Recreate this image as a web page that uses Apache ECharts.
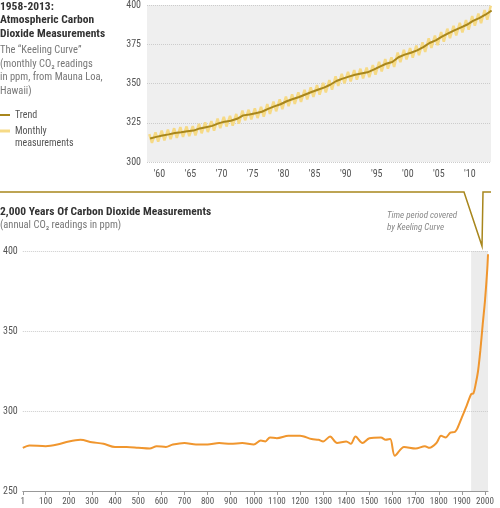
<!DOCTYPE html><html><head><meta charset="utf-8"><script src="https://cdn.jsdelivr.net/npm/echarts@6/dist/echarts.min.js"></script>
<style>html,body{margin:0;padding:0;background:#fff}#c{width:500px;height:508px}</style></head><body><div id="c"></div><script>
const trendYears=[1958,1959,1960,1961,1962,1963,1964,1965,1966,1967,1968,1969,1970,1971,1972,1973,1974,1975,1976,1977,1978,1979,1980,1981,1982,1983,1984,1985,1986,1987,1988,1989,1990,1991,1992,1993,1994,1995,1996,1997,1998,1999,2000,2001,2002,2003,2004,2005,2006,2007,2008,2009,2010,2011,2012,2013];
const trendValues=[315.0,316.0,316.9,317.6,318.5,319.0,319.6,320.0,321.4,322.2,323.0,324.6,325.7,326.3,327.5,329.7,330.2,331.1,332.0,333.8,335.4,336.8,338.7,340.1,341.4,343.0,344.6,346.0,347.4,349.2,351.6,353.1,354.4,355.6,356.4,357.1,358.8,360.8,362.6,363.7,366.7,368.4,369.6,371.1,373.2,375.8,377.5,379.8,381.9,383.8,385.6,387.4,389.9,391.6,393.8,396.5];
const monthlyMay=[317.8,318.9,320.0,320.6,321.5,322.2,322.6,322.9,324.3,325.2,326.0,327.6,328.7,329.4,330.6,332.8,333.3,334.2,335.1,336.9,338.5,339.9,341.7,343.1,344.4,346.0,347.6,349.0,350.4,352.2,354.6,356.1,357.4,358.6,359.4,360.1,361.8,363.8,365.6,366.7,369.7,371.4,372.6,374.1,376.2,378.8,380.5,382.8,384.9,386.8,388.6,390.4,392.9,394.6,396.8,399.5];
const monthlyOct=[312.2,313.0,313.8,314.6,315.4,316.0,316.5,316.9,318.3,319.1,319.9,321.5,322.6,323.2,324.4,326.6,327.1,328.0,328.9,330.7,332.3,333.7,335.6,337.0,338.3,339.9,341.5,342.9,344.3,346.1,348.5,350.0,351.3,352.5,353.3,354.0,355.7,357.7,359.5,360.6,363.6,365.3,366.5,368.0,370.1,372.7,374.4,376.7,378.8,380.7,382.5,384.3,386.8,388.5,390.7];
const histYears=[1,30,100,150,200,250,300,350,400,450,500,550,580,620,650,700,750,800,850,900,950,1000,1030,1050,1070,1100,1150,1200,1250,1280,1300,1330,1360,1400,1420,1440,1470,1500,1550,1570,1590,1610,1650,1700,1740,1760,1790,1810,1830,1850,1870,1880,1900,1920,1940,1950,1960,1970,1980,1990,2000,2010,2013];
const histValues=[277,278.5,278,279,281,282,280.5,279.5,277.5,277.5,277,276.5,278,277.5,279,280,279,279,280,279.5,280,279,281.5,281,283.5,283,284.5,284.5,282.5,282,281,284,280,281,279.5,284,280,283,283.5,282,282.5,272,277.5,276.5,278,277,280,284.5,283.5,286.5,287,289,296,303,310.5,311,317,325,338,354,369,389,398];
const topTicks=[1960,1965,1970,1975,1980,1985,1990,1995,2000,2005,2010];
const bottomTicks=[1,100,200,300,400,500,600,700,800,900,1000,1100,1200,1300,1400,1500,1600,1700,1800,1900,2000];
const gold='#a8861c', light='#f6da86', orange='#f0962e';
const monthly=[];
for(let i=0;i<monthlyMay.length;i++){monthly.push([trendYears[i]+0.37,monthlyMay[i]]);if(i<monthlyOct.length)monthly.push([trendYears[i]+0.8,monthlyOct[i]]);}
const F='"Liberation Sans Narrow","Roboto Condensed","Liberation Sans",sans-serif';
const ch=echarts.init(document.getElementById('c'));
const lbl={color:'#555',fontSize:10,fontFamily:F};
const sl={show:true,lineStyle:{color:'#ccc',type:'dotted'}};
ch.setOption({animation:false,
grid:[{left:147,top:3,width:344,height:159,backgroundColor:'#efefef',show:true,borderWidth:0},
{left:18,top:251,width:470,height:240,show:false}],
xAxis:[{gridIndex:0,type:'value',min:1958,max:2013.4,axisLine:{show:false},axisTick:{show:false},splitLine:{show:false},
 axisLabel:Object.assign({customValues:topTicks,formatter:v=>"'"+String(v).slice(2),margin:7},lbl)},
{gridIndex:1,type:'value',min:1,max:2013,axisLine:{show:true,lineStyle:{color:'#999'}},axisTick:{show:true,customValues:bottomTicks,length:4,lineStyle:{color:'#999'}},splitLine:{show:false},
 axisLabel:Object.assign({customValues:bottomTicks,formatter:v=>String(v),margin:6},lbl,{fontSize:9})}],
yAxis:[{gridIndex:0,type:'value',min:300,max:400,interval:25,axisLine:{show:false},axisTick:{show:false},splitLine:sl,axisLabel:Object.assign({margin:6},lbl)},
{gridIndex:1,type:'value',min:250,max:400,interval:50,axisLine:{show:false},axisTick:{show:false},splitLine:sl,axisLabel:Object.assign({margin:5},lbl)}],
series:[{type:'line',xAxisIndex:0,yAxisIndex:0,data:monthly,showSymbol:false,lineStyle:{color:light,width:2.5}},
{type:'line',xAxisIndex:0,yAxisIndex:0,data:trendYears.map((y,i)=>[y+0.5,trendValues[i]]),showSymbol:false,lineStyle:{color:gold,width:2}},
{type:'line',xAxisIndex:1,yAxisIndex:1,data:histYears.map((y,i)=>[y,histValues[i]]),showSymbol:false,smooth:0.3,lineStyle:{color:orange,width:2},
 markArea:{silent:true,itemStyle:{color:'rgba(200,200,200,0.35)'},data:[[{xAxis:1940},{xAxis:2013}]]}}],
graphic:[
{type:'text',left:0,top:0,style:{text:'1958-2013:\nAtmospheric Carbon\nDioxide Measurements',font:'bold 11.5px '+F,fill:'#333',lineHeight:13.5}},
{type:'text',left:0,top:44,style:{text:'The “Keeling Curve”\n(monthly CO₂ readings\nin ppm, from Mauna Loa,\nHawaii)',font:'10.5px '+F,fill:'#777',lineHeight:13.5}},
{type:'line',shape:{x1:0,y1:115,x2:10,y2:115},style:{stroke:gold,lineWidth:2}},
{type:'text',left:15,top:110,style:{text:'Trend',font:'10px '+F,fill:'#555'}},
{type:'line',shape:{x1:0,y1:131,x2:10,y2:131},style:{stroke:light,lineWidth:3}},
{type:'text',left:15,top:126,style:{text:'Monthly\nmeasurements',font:'10px '+F,fill:'#555',lineHeight:11.5}},
{type:'polyline',shape:{points:[[0,192],[464,192],[482,246],[483,192],[491,192]]},style:{stroke:gold,lineWidth:1.5,fill:null}},
{type:'text',left:0,top:206,style:{text:'2,000 Years Of Carbon Dioxide Measurements',font:'bold 11.5px '+F,fill:'#333'}},
{type:'text',left:0,top:220,style:{text:'(annual CO₂ readings in ppm)',font:'10.5px '+F,fill:'#777'}},
{type:'text',left:387,top:210,style:{text:'Time period covered\nby Keeling Curve',font:'italic 9px '+F,fill:'#888',lineHeight:12}}
]});
</script></body></html>
